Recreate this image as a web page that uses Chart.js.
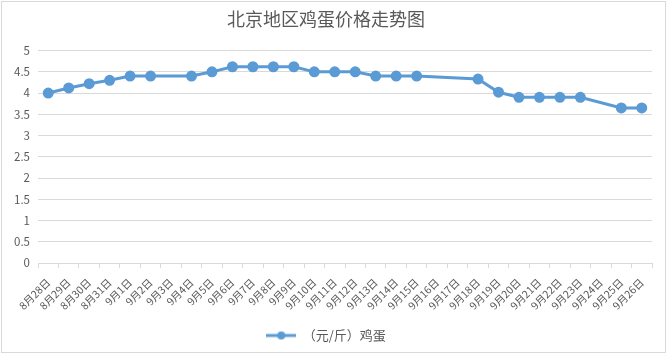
<!DOCTYPE html>
<html>
<head>
<meta charset="utf-8">
<script src="https://cdn.jsdelivr.net/npm/chart.js@4.4.0/dist/chart.umd.min.js"></script>
<style>
  body { margin: 0; background: #fff; }
  #wrap { position: relative; width: 667px; height: 354px; }
  #frame { position: absolute; left: 1px; top: 1px; width: 665px; height: 352px;
           box-sizing: border-box; border: 1px solid #d9d9d9; pointer-events: none; }
</style>
</head>
<body>
<div id="wrap">
  <canvas id="eggChart" width="667" height="354"></canvas>
  <div id="frame"></div>
</div>
<script>
// 日期
const dates = [
    '8月28日', '8月29日', '8月30日', '8月31日',
    '9月1日', '9月2日', '9月3日', '9月4日', '9月5日', '9月6日', '9月7日', '9月8日',
    '9月9日', '9月10日', '9月11日', '9月12日', '9月13日', '9月14日', '9月15日',
    '9月16日', '9月17日', '9月18日', '9月19日', '9月20日', '9月21日', '9月22日',
    '9月23日', '9月24日', '9月25日', '9月26日'
];
// 鸡蛋价格（元/斤），null = 无数据
const prices = [
    4.0, 4.12, 4.22, 4.3,
    4.4, 4.4, null, 4.4, 4.5, 4.62, 4.62, 4.62,
    4.62, 4.5, 4.5, 4.5, 4.4, 4.4, 4.4,
    null, null, 4.33, 4.02, 3.9, 3.9, 3.9,
    3.9, null, 3.65, 3.65
];
const seriesName = '（元/斤）鸡蛋';
const chartTitle = '北京地区鸡蛋价格走势图';

const blue = '#5b9bd5';
const textColor = '#595959';
const gridColor = '#d9d9d9';
const fontFamily = "'Noto Sans CJK SC', 'Noto Sans', sans-serif";

// legend marker: line with a dot in the middle
const legendIcon = document.createElement('canvas');
legendIcon.width = 30;
legendIcon.height = 10;
(function () {
    const c = legendIcon.getContext('2d');
    c.strokeStyle = blue;
    c.lineWidth = 3;
    c.beginPath();
    c.moveTo(0, 5);
    c.lineTo(30, 5);
    c.stroke();
    c.fillStyle = blue;
    c.beginPath();
    c.arc(15, 5, 4, 0, Math.PI * 2);
    c.fill();
})();

new Chart(document.getElementById('eggChart'), {
    type: 'line',
    data: {
        labels: dates,
        datasets: [{
            label: seriesName,
            data: prices,
            borderColor: blue,
            backgroundColor: blue,
            borderWidth: 3,
            pointRadius: 4,
            pointHoverRadius: 5,
            tension: 0,
            spanGaps: true
        }]
    },
    options: {
        responsive: false,
        animation: false,
        layout: { padding: { left: 0, right: 15, top: 0, bottom: 2 } },
        scales: {
            x: {
                offset: true,
                grid: {
                    offset: true,
                    drawOnChartArea: false,
                    color: gridColor,
                    tickLength: 5
                },
                border: { color: gridColor },
                ticks: {
                    autoSkip: false,
                    minRotation: 45,
                    maxRotation: 45,
                    padding: 8,
                    color: textColor,
                    font: { family: fontFamily, size: 10.5 }
                },
                afterFit: scale => { scale.height = 56; }
            },
            y: {
                min: 0,
                max: 5,
                ticks: {
                    stepSize: 0.5,
                    padding: 8,
                    color: textColor,
                    font: { family: fontFamily, size: 11.5 },
                    callback: value => String(value)
                },
                grid: { color: gridColor, drawTicks: false },
                border: { display: false },
                afterFit: scale => { scale.width = 38; }
            }
        },
        plugins: {
            title: {
                display: true,
                text: chartTitle,
                color: textColor,
                font: { family: fontFamily, size: 18, weight: 'normal' },
                padding: { top: 8, bottom: 21 }
            },
            legend: {
                position: 'bottom',
                labels: {
                    usePointStyle: true,
                    pointStyle: legendIcon,
                    pointStyleWidth: 30,
                    padding: 10,
                    color: textColor,
                    font: { family: fontFamily, size: 13 }
                }
            },
            tooltip: { enabled: true }
        }
    }
});
</script>
</body>
</html>
